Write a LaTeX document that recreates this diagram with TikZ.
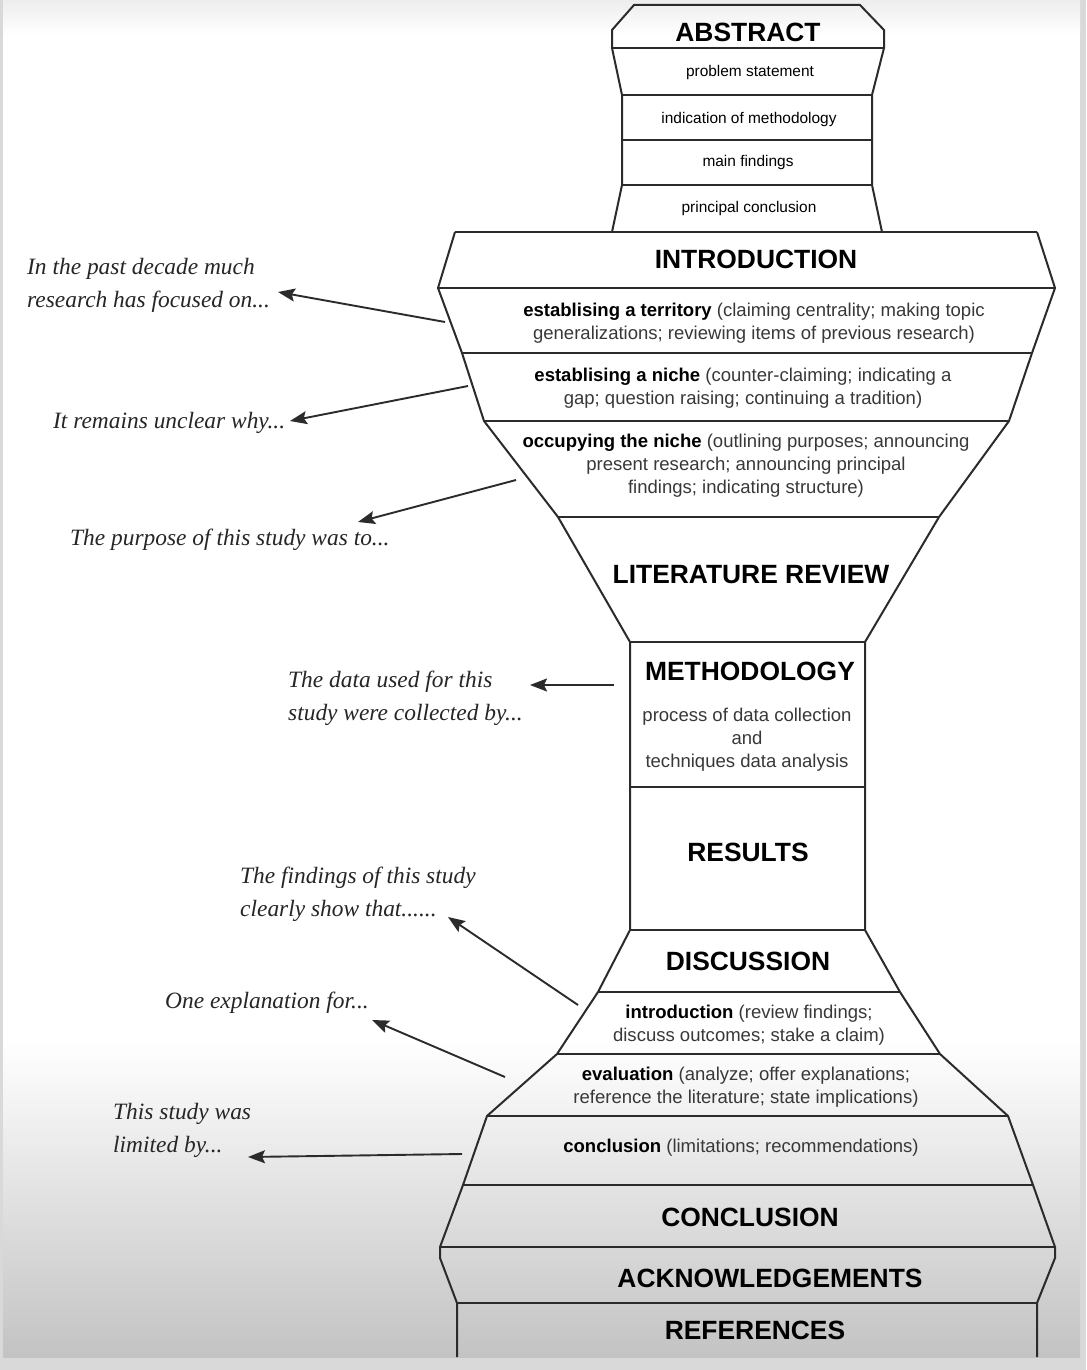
\documentclass[tikz,border=0pt]{standalone}
\usepackage{fontspec}
\setsansfont{Liberation Sans}
\newfontfamily\notefont{Liberation Serif}
\usetikzlibrary{arrows.meta}
\definecolor{lineC}{HTML}{2B2B2B}
\definecolor{textC}{HTML}{383838}
\definecolor{noteC}{HTML}{262626}
\definecolor{frameC}{HTML}{D9D9D9}
\definecolor{bgLow}{HTML}{C3C3C3}
\definecolor{bgTop}{HTML}{EDEDED}
\begin{document}
\begin{tikzpicture}[x=1bp,y=-1bp,
  head/.style={font=\sffamily\bfseries\fontsize{26.5}{30}\selectfont, text=black, inner sep=0pt},
  sub/.style={font=\sffamily\fontsize{18.6}{23}\selectfont, align=center, text=textC, inner sep=0pt},
  abs/.style={font=\sffamily\fontsize{15.5}{18}\selectfont, text=black, inner sep=0pt},
  note/.style={font=\notefont\itshape\fontsize{23.5}{33}\selectfont, align=left, anchor=west, text=noteC, inner sep=0pt},
  arr/.style={-{Stealth[length=17bp,width=13bp,inset=3bp]}, line width=1.9bp, draw=lineC},
  outline/.style={line width=2bp, draw=lineC, line join=miter}]
\useasboundingbox (0,0) rectangle (1086,1370);
% background
\fill[frameC] (0,0) rectangle (1086,1370);
\fill[white] (3,0) rectangle (1080,1357);
\shade[top color=bgTop, bottom color=white] (3,0) rectangle (1080,35);
\shade[top color=white, bottom color=bgLow] (3,1040) rectangle (1080,1357);

% abstract outline
\draw[outline] (612,232) -- (622,185) -- (622,95) -- (612,48) -- (612,30) -- (634,5)
  -- (860,5) -- (884,30) -- (884,48) -- (872,95) -- (872,185) -- (882,232);
\foreach \y/\a/\b in {48/612/884, 95/622/872, 140/622/872, 185/622/872}
  \draw[outline] (\a,\y) -- (\b,\y);
% main outline
\draw[outline] (455,232) -- (438,288) -- (462,353) -- (484,421) -- (558,517) -- (630,642)
  -- (630,930) -- (598,992) -- (557,1054) -- (487,1116) -- (463,1185) -- (440,1247)
  -- (440,1258) -- (457,1303) -- (457,1357);
\draw[outline] (1037,232) -- (1055,288) -- (1032,353) -- (1009,421) -- (939,517) -- (865,642)
  -- (865,930) -- (900,992) -- (940,1054) -- (1008,1116) -- (1033,1185) -- (1055,1247)
  -- (1055,1258) -- (1037,1303) -- (1037,1357);
\foreach \y/\a/\b in {232/455/1037, 288/438/1055, 353/462/1032, 421/484/1009, 517/558/939,
  642/630/865, 787/630/865, 930/630/865, 992/598/900, 1054/557/940, 1116/487/1008,
  1185/463/1033, 1247/440/1055, 1303/457/1037}
  \draw[outline] (\a,\y) -- (\b,\y);

% section texts
\node[head] (abstract) at (748,32) {ABSTRACT};
\node[abs] (ps) at (750,73) {problem statement};
\node[abs] (im) at (749,120) {indication of methodology};
\node[abs] (mf) at (748,163) {main findings};
\node[abs] (pc) at (749,209) {principal conclusion};
\node[head] (intro) at (756,259) {INTRODUCTION};
\node[sub] (terr) at (754,323) {\textbf{\color{black}establising a territory} (claiming centrality; making topic\\generalizations; reviewing items of previous research)};
\node[sub] (niche) at (743,388) {\textbf{\color{black}establising a niche} (counter-claiming; indicating a\\gap; question raising; continuing a tradition)};
\node[sub] (occ) at (746,466) {\textbf{\color{black}occupying the niche} (outlining purposes; announcing\\present research; announcing principal\\findings; indicating structure)};
\node[head] (lit) at (751,575) {LITERATURE REVIEW};
\node[head] (meth) at (750,671) {METHODOLOGY};
\node[sub] (proc) at (747,740) {process of data collection\\and\\techniques data analysis};
\node[head] (res) at (748,852) {RESULTS};
\node[head] (disc) at (748,961) {DISCUSSION};
\node[sub] (dintro) at (749,1025) {\textbf{\color{black}introduction} (review findings;\\discuss outcomes; stake a claim)};
\node[sub] (deval) at (746,1087) {\textbf{\color{black}evaluation} (analyze; offer explanations;\\reference the literature; state implications)};
\node[sub] (dconc) at (741,1148) {\textbf{\color{black}conclusion} (limitations; recommendations)};
\node[head] (concl) at (750,1217) {CONCLUSION};
\node[head] (ack) at (770,1278) {ACKNOWLEDGEMENTS};
\node[head] (refs) at (755,1330) {REFERENCES};

% left notes
\node[note] (n1) at (27,285) {In the past decade much\\research has focused on...};
\node[note] (n2) at (53,423) {It remains unclear why...};
\node[note] (n3) at (70,540) {The purpose of this study was to...};
\node[note] (n4) at (288,698) {The data used for this\\study were collected by...};
\node[note] (n5) at (240,894) {The findings of this study\\clearly show that......};
\node[note] (n6) at (165,1003) {One explanation for...};
\node[note] (n7) at (113,1130) {This study was\\limited by...};

% arrow end points
\coordinate (s1) at (445,322); \coordinate (e1) at (278,292);
\coordinate (s2) at (468,386); \coordinate (e2) at (290,421);
\coordinate (s3) at (516,480); \coordinate (e3) at (358,522);
\coordinate (s4) at (614,685); \coordinate (e4) at (530,685);
\coordinate (s5) at (578,1005); \coordinate (e5) at (448,917);
\coordinate (s6) at (505,1077); \coordinate (e6) at (372,1020);
\coordinate (s7) at (462,1154); \coordinate (e7) at (248,1157);
\foreach \i in {1,...,7} \draw[arr] (s\i) -- (e\i);
\end{tikzpicture}
\end{document}
